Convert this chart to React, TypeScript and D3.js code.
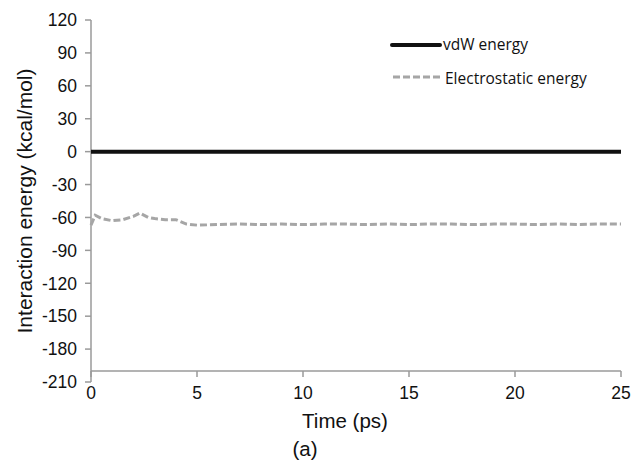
import React from "react";
import * as d3 from "d3";

const yTicks = [120, 90, 60, 30, 0, -30, -60, -90, -120, -150, -180, -210];
const xTicks = [0, 5, 10, 15, 20, 25];

const vdwTime = [0, 25];
const vdwValue = [0, 0];

const elecTime = [0, 0.2, 0.5, 1, 1.5, 2, 2.3, 2.7, 3, 3.5, 4, 4.5, 5, 6, 7, 8, 9, 10, 11, 12, 13, 14, 15, 16, 17, 18, 19, 20, 21, 22, 23, 24, 25];
const elecValue = [-67, -58, -61, -63, -62, -59, -56, -60, -61, -62, -62, -66, -67, -66.5, -66, -66.5, -66, -66.5, -66, -66, -66.5, -66, -66.5, -66, -66, -66.5, -66, -66, -66.5, -66, -66.5, -66, -66];

export default function App() {
  const W = 631, H = 470;
  const x = d3.scaleLinear().domain([0, 25]).range([91, 621]);
  const y = d3.scaleLinear().domain([120, -210]).range([20, 382]);
  const axisY = y(-200);
  const line = d3.line<[number, number]>().x(d => x(d[0])).y(d => y(d[1]));
  const vdw = line(vdwTime.map((t, i) => [t, vdwValue[i]]) as [number, number][]);
  const elec = line(elecTime.map((t, i) => [t, elecValue[i]]) as [number, number][]);
  const axisColor = "#9a9a9a";
  const font = "Liberation Sans, Arial, sans-serif";
  return (
    <svg width={W} height={H} style={{ position: "absolute", left: 0, top: 0, background: "#fff" }}>
      <rect x={0} y={0} width={W} height={H} fill="#fff" />
      {/* y axis */}
      <line x1={x(0)} x2={x(0)} y1={y(120)} y2={y(-210)} stroke={axisColor} strokeWidth={1.5} />
      {yTicks.map(t => (
        <g key={t}>
          <line x1={x(0) - 6} x2={x(0)} y1={y(t)} y2={y(t)} stroke={axisColor} strokeWidth={1.5} />
          <text x={77} y={y(t)} dy="0.36em" textAnchor="end" fontFamily={font} fontSize={17.5} fill="#111">{t}</text>
        </g>
      ))}
      {/* x axis */}
      <line x1={x(0)} x2={x(25)} y1={axisY} y2={axisY} stroke={axisColor} strokeWidth={1.5} />
      {xTicks.map(t => (
        <g key={t}>
          <line x1={x(t)} x2={x(t)} y1={axisY} y2={axisY + 6} stroke={axisColor} strokeWidth={1.5} />
          <text x={x(t)} y={399} textAnchor="middle" fontFamily={font} fontSize={17.5} fill="#111">{t}</text>
        </g>
      ))}
      {/* series */}
      <path d={elec ?? ""} fill="none" stroke="#a6a6a6" strokeWidth={3} strokeDasharray="7 3" />
      <path d={vdw ?? ""} fill="none" stroke="#111" strokeWidth={4} />
      {/* axis titles */}
      <text transform={`translate(25, ${(y(120) + y(-210)) / 2}) rotate(-90)`} textAnchor="middle" dy="0.35em" fontFamily={font} fontSize={21} fill="#111">Interaction energy (kcal/mol)</text>
      <text x={345} y={428} textAnchor="middle" fontFamily={font} fontSize={20.5} fill="#111">Time (ps)</text>
      <text x={305} y={456} textAnchor="middle" fontFamily={font} fontSize={20.5} fill="#111">(a)</text>
      {/* legend */}
      <line x1={392} x2={440} y1={45} y2={45} stroke="#111" strokeWidth={4} strokeLinecap="round" />
      <text x={443} y={45} dy="0.35em" fontFamily="Open Sans, sans-serif" fontSize={15.5} fill="#111">vdW energy</text>
      <line x1={393} x2={440} y1={77} y2={77} stroke="#a6a6a6" strokeWidth={3} strokeDasharray="7 3" />
      <text x={445} y={79} dy="0.35em" fontFamily="Open Sans, sans-serif" fontSize={15.5} fill="#111">Electrostatic energy</text>
    </svg>
  );
}
